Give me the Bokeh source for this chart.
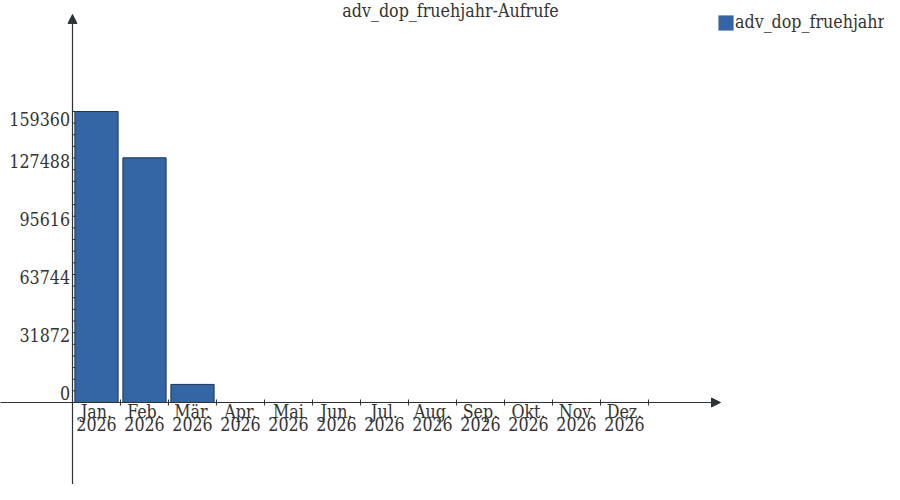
from bokeh.plotting import figure
from bokeh.models import Range1d, Arrow, NormalHead, Label, Legend, LegendItem
from bokeh.core.properties import value
from bokeh.embed import file_html
from bokeh.resources import INLINE

# ---- data ----
months = ["Jan.", "Feb.", "Mär.", "Apr.", "Mai", "Jun.", "Jul.", "Aug.", "Sep.", "Okt.", "Nov.", "Dez."]
years = ["2026"] * 12
calls = [159360, 134000, 9900, 0, 0, 0, 0, 0, 0, 0, 0, 0]
y_ticks = [0, 31872, 63744, 95616, 127488, 159360]
y_tick_labels = ["0", "31872", "63744", "95616", "127488", "159360"]
minor_step = 31872 / 5
title_text = "adv_dop_fruehjahr-Aufrufe"
series_name = "adv_dop_fruehjahr"

FONT = "DejaVu Serif Condensed"
FS = "17.7px"
TXT = "#333333"
AX = "#2e3436"
BAR = "#3465a4"
BAR_LINE = "#1f3552"

idx = list(range(len(months)))

p = figure(width=884, height=484, output_backend="svg", toolbar_location=None,
           x_range=Range1d(-2.0, 16.4167), y_range=Range1d(-44906, 220147),
           min_border=0, outline_line_color=None)
p.axis.visible = False
p.grid.visible = False
p.background_fill_color = "white"
p.border_fill_color = "white"

# axes with arrows
p.add_layout(Arrow(x_start=-2.2, y_start=0, x_end=13.0, y_end=0, line_color=AX, line_width=1.2,
                   end=NormalHead(size=9, fill_color=AX, line_color=AX)))
p.add_layout(Arrow(x_start=-0.5, y_start=-60000, x_end=-0.5, y_end=212500, line_color=AX, line_width=1.2,
                   end=NormalHead(size=9, fill_color=AX, line_color=AX)))

# bars: fill and outline drawn from the same data
bars_fill = p.vbar(x=idx, top=calls, width=0.9, fill_color=BAR, line_color=None)
p.vbar(x=idx, top=calls, width=0.9, fill_color=None, line_color=BAR_LINE, line_width=1)

# x ticks (crossing the axis)
xt = [i + 0.5 for i in idx]
p.ray(x=xt, y=[0] * len(xt), length=3, angle=1.5708, length_units="screen", line_color=AX, line_width=1)
p.ray(x=xt, y=[0] * len(xt), length=3, angle=-1.5708, length_units="screen", line_color=AX, line_width=1)

# y ticks (inside)
ymt = [i * minor_step for i in range(26)]
p.ray(x=[-0.5] * len(ymt), y=ymt, length=3, angle=0, length_units="screen", line_color=AX, line_width=1)

# y tick labels
p.text(x=[-0.5] * 5, y=y_ticks[:-1], text=y_tick_labels[:-1], text_align="right",
       text_baseline="alphabetic", x_offset=-2.5, y_offset=-9,
       text_font=value(FONT), text_font_size=FS, text_color=TXT)
p.text(x=[-0.5], y=y_ticks[-1:], text=y_tick_labels[-1:], text_align="right",
       text_baseline="top", x_offset=-2.5, y_offset=0,
       text_font=value(FONT), text_font_size=FS, text_color=TXT)

# x tick labels (two lines)
p.text(x=idx, y=[0] * 12, text=months, text_align="center", text_baseline="alphabetic",
       y_offset=10, text_font=value(FONT), text_font_size=FS, text_color=TXT)
p.text(x=idx, y=[0] * 12, text=years, text_align="center", text_baseline="alphabetic",
       y_offset=22, text_font=value(FONT), text_font_size=FS, text_color=TXT)

# title
p.add_layout(Label(x=450, y=484, x_units="screen", y_units="screen", text=title_text,
                   text_align="center", text_baseline="top", text_font=FONT,
                   text_font_size=FS, text_color=TXT))

legend = Legend(items=[LegendItem(label=series_name, renderers=[bars_fill])], location=(716, 452),
                padding=0, margin=0, spacing=0, glyph_width=19, glyph_height=19, label_standoff=0,
                border_line_color=None, background_fill_alpha=0,
                label_text_font=FONT, label_text_font_size=FS, label_text_color=TXT)
p.add_layout(legend)

open("out.html", "w").write(file_html(p, INLINE))
